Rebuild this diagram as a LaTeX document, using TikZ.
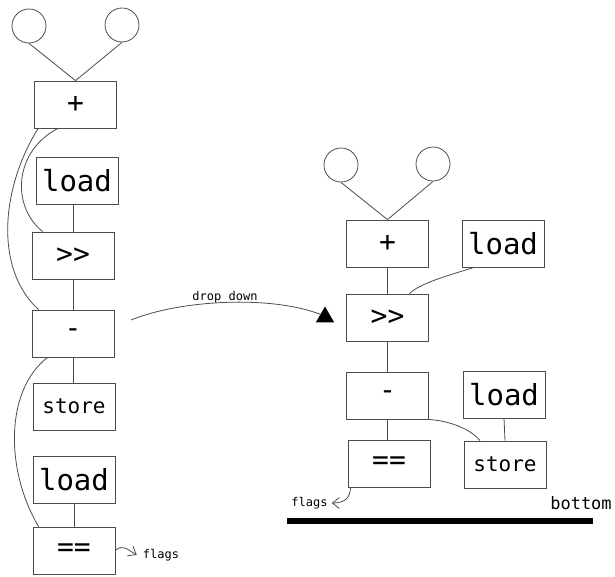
\documentclass[tikz,border=0pt]{standalone}
\usepackage{fontspec}
\setmonofont{DejaVu Sans Mono}
\usetikzlibrary{arrows.meta,shapes.geometric}

\begin{document}
\begin{tikzpicture}[
  x=1pt, y=-1pt,
  op/.style={rectangle, draw=black!70, line width=0.8pt, minimum width=82pt, minimum height=47pt, inner sep=0pt, font=\ttfamily\fontsize{28}{28}\selectfont},
  ld/.style={op, font=\ttfamily\fontsize{29}{29}\selectfont},
  st/.style={op, font=\ttfamily\fontsize{21}{21}\selectfont},
  src/.style={circle, draw=black!70, line width=0.8pt, minimum size=34pt, inner sep=0pt},
  wire/.style={draw=black!70, line width=0.8pt},
  small/.style={font=\ttfamily\fontsize{12}{12}\selectfont, inner sep=0pt},
  flagarr/.style={wire, -{Straight Barb[length=7pt, width=11pt]}}
]
\useasboundingbox (0,0) rectangle (615,576);

% Left: original order
\node[src] (lc1) at (29,26) {};
\node[src] (lc2) at (122,25) {};
\node[op] (lplus) at (75.5,104.5) {+};
\node[ld] (lloadA) at (77,180.5) {load};
\node[op] (lshr) at (73,255.5) {>>};
\node[op] (lminus) at (73,333.5) {-};
\node[st] (lstore) at (74,406.5) {store};
\node[ld] (lloadB) at (74,479.5) {load};
\node[op] (leq) at (74,550.5) {==};
\node[small] (lflags) at (161,555) {flags};

\draw[wire] (lc1.south) -- (lplus.north);
\draw[wire] (lc2.south) -- (lplus.north);
\draw[wire] (lshr.north) -- (lshr.north |- lloadA.south);
\draw[wire] (lshr.south) -- (lminus.north);
\draw[wire] (lminus.south) -- (lminus.south |- lstore.north);
\draw[wire] (lloadB.south) -- (leq.north);
\draw[wire] ([xshift=4pt]lplus.south west) .. controls (0,190) and (-5,270) .. ([xshift=7pt]lminus.north west);
\draw[wire] ([xshift=24pt]lplus.south west) .. controls (15,150) and (10,205) .. ([xshift=11pt]lshr.north west);
\draw[wire] ([xshift=16pt]lminus.south west) .. controls (5,390) and (5,470) .. ([xshift=6pt]leq.north west);
\draw[flagarr] (leq.east) .. controls (122,544) and (127,549) .. ([xshift=-6pt]lflags.west);

% Middle: drop down
\coordinate (dropstart) at (131,320);
\node[regular polygon, regular polygon sides=3, fill=black, minimum size=21pt, inner sep=0pt] (dtip) at (325,317) {};
\draw[wire] (dropstart) .. controls (180,300) and (270,295) .. (dtip.side 1);
\node[small] (droplbl) at (225,297) {drop down};

% Right: after the move
\node[src] (rc1) at (341,165) {};
\node[src] (rc2) at (433,164) {};
\node[op] (rplus) at (387.5,243.5) {+};
\node[ld] (rloadA) at (503,243.5) {load};
\node[op] (rshr) at (387.5,317.5) {>>};
\node[op] (rminus) at (387.5,395.5) {-};
\node[ld] (rloadB) at (504,394.5) {load};
\node[op] (req) at (389,463.5) {==};
\node[st] (rstore) at (505,464.5) {store};
\node[small] (rflags) at (309.5,503) {flags};
\node[font=\ttfamily\fontsize{17}{17}\selectfont, inner sep=0pt] (bottomlbl) at (581,503) {bottom};

\draw[wire] (rc1.south) -- (rplus.north);
\draw[wire] (rc2.south) -- (rplus.north);
\draw[wire] (rplus.south) -- (rshr.north);
\draw[wire] ([xshift=-29pt]rloadA.south) .. controls (450,275) and (420,283) .. ([xshift=22pt]rshr.north);
\draw[wire] (rshr.south) -- (rminus.north);
\draw[wire] (rminus.south) -- (rminus.south |- req.north);
\draw[wire] (rloadB.south) -- (rstore.north);
\draw[wire] ([xshift=-6pt]rminus.south east) .. controls (445,419) and (470,428) .. ([xshift=-25pt]rstore.north);
\draw[flagarr] ([xshift=3pt]req.south west) .. controls (350,497) and (346,503) .. ([xshift=4pt]rflags.east);

% Bottom bar
\draw[line width=6pt] (287,521) -- (593,521);

\end{tikzpicture}
\end{document}
